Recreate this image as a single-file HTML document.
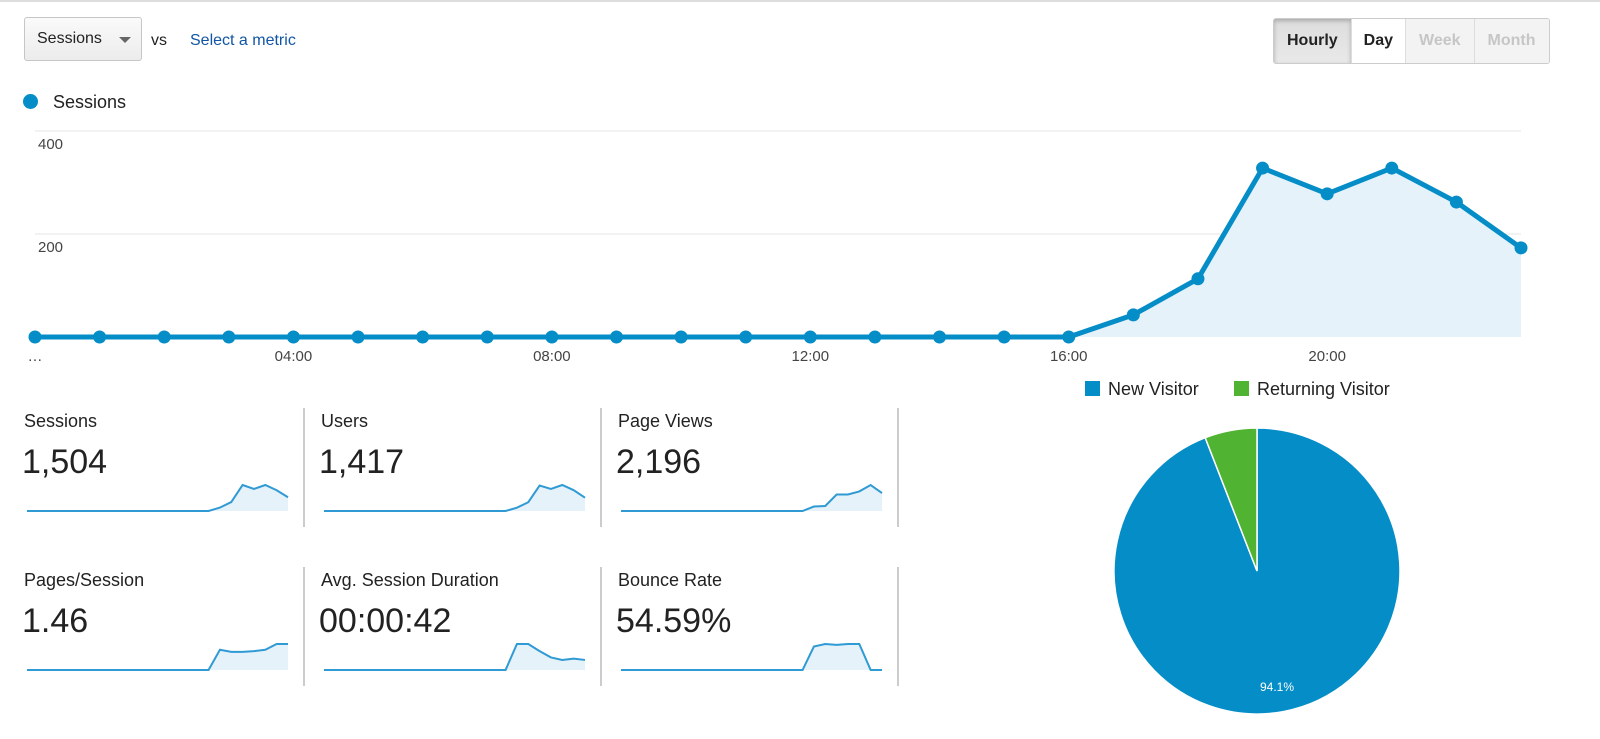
<!DOCTYPE html>
<html><head><meta charset="utf-8">
<style>
body{margin:0;width:1600px;height:739px;background:#fff;font-family:"Liberation Sans",sans-serif;position:relative;overflow:hidden;color:#222}
.abs{position:absolute}
.sel{left:24px;top:17px;width:118px;height:44px;border:1px solid #c6c6c6;border-radius:3px;background:linear-gradient(#fafafa,#ececec);box-sizing:border-box;font-size:16px;line-height:42px;padding-left:12px}
.sel:after{content:"";position:absolute;right:10px;top:19px;border:6px solid transparent;border-top:6px solid #666}
.btns{left:1273px;top:18px;height:44px;display:flex;border:1px solid #ccc;border-radius:3px;overflow:hidden}
.btns div{font-size:16px;font-weight:bold;line-height:44px;padding:0 13px;border-right:1px solid #ddd;background:#f3f3f3;color:#c6c6c6}
.mt{font-size:18px}
.mv{font-size:34px}
</style></head><body>
<div class="abs" style="left:0;top:0;width:1600px;height:2px;background:#ddd"></div>
<div class="abs sel">Sessions</div>
<div class="abs" style="left:151px;top:32px;font-size:16px">vs</div>
<div class="abs" style="left:190px;top:32px;font-size:16px;color:#1155a5">Select a metric</div>
<div class="abs btns">
<div style="background:linear-gradient(#ddd,#e9e9e9);color:#222;box-shadow:inset 0 2px 4px #aaa">Hourly</div>
<div style="background:#fff;color:#222;padding:0 12px">Day</div>
<div>Week</div>
<div style="border-right:none">Month</div>
</div>
<div class="abs" style="left:23px;top:94px;width:15px;height:15px;border-radius:50%;background:#058dc7"></div>
<div class="abs" style="left:53px;top:92px;font-size:18px">Sessions</div>

<svg id="main" class="abs" style="left:0;top:0" width="1600" height="739"></svg>

<div class="abs" style="left:1085px;top:381px;width:15px;height:15px;background:#058dc7"></div>
<div class="abs" style="left:1108px;top:379px;font-size:18px">New Visitor</div>
<div class="abs" style="left:1234px;top:381px;width:15px;height:15px;background:#50b432"></div>
<div class="abs" style="left:1257px;top:379px;font-size:18px">Returning Visitor</div>

<script>
const hours=[0,1,2,3,4,5,6,7,8,9,10,11,12,13,14,15,16,17,18,19,20,21,22,23];
const sessions=[0,0,0,0,0,0,0,0,0,0,0,0,0,0,0,0,0,43,113,328,278,328,262,173];
const yTicks=[200,400];
const xTickLabels=["…","04:00","08:00","12:00","16:00","20:00"];
const xTickHours=[0,4,8,12,16,20];
const sparkUsers=[0,0,0,0,0,0,0,0,0,0,0,0,0,0,0,0,0,40,105,305,265,312,250,160];
const sparkPageViews=[0,0,0,0,0,0,0,0,0,0,0,0,0,0,0,0,0,160,180,590,590,700,930,640];
const sparkPagesSession=[0,0,0,0,0,0,0,0,0,0,0,0,0,0,0,0,0,1.34,1.2,1.2,1.25,1.34,1.72,1.72];
const sparkDuration=[0,0,0,0,0,0,0,0,0,0,0,0,0,0,0,0,0,62,62,45,30,24,27,24];
const sparkBounce=[0,0,0,0,0,0,0,0,0,0,0,0,0,0,0,0,0,84,93,90,93,93,0,0];
const metricNames=["Sessions","Users","Page Views","Pages/Session","Avg. Session Duration","Bounce Rate"];
const metricValues=["1,504","1,417","2,196","1.46","00:00:42","54.59%"];
const pieLabels=["New Visitor","Returning Visitor"];
const pieValues=[94.1,5.9];
const pieColors=["#058dc7","#50b432"];

const NS="http://www.w3.org/2000/svg";
const svg=document.getElementById('main');
function mk(t,a,p){const e=document.createElementNS(NS,t);for(const k in a)e.setAttribute(k,a[k]);(p||svg).appendChild(e);return e;}
const X=h=>35+h*(1521-35)/23;
const Y=v=>337-v*(337-234)/200;
// grid
for(const t of yTicks){const g=mk('line',{x1:35,x2:1521,y1:Y(t),y2:Y(t),stroke:'#e6e6e6'});

const l=mk('text',{x:38,y:Y(t)+18,'font-size':15,fill:'#444'});l.textContent=t;
}
xTickLabels.forEach((s,i)=>{const l=mk('text',{x:X(xTickHours[i]),y:361,'font-size':15,fill:'#444','text-anchor':'middle'});l.textContent=s;
});
let pts=hours.map((h,i)=>X(h)+','+Y(sessions[i])).join(' ');
const area=mk('polygon',{points:X(0)+','+Y(0)+' '+pts+' '+X(23)+','+Y(0),fill:'#e6f2f9'});

const ln=mk('polyline',{points:pts,fill:'none',stroke:'#058dc7','stroke-width':5,'stroke-linejoin':'round'});

hours.forEach((h,i)=>{const c=mk('circle',{cx:X(h),cy:Y(sessions[i]),r:6.5,fill:'#058dc7'});
});

// metric cells
const sparks=[sessions,sparkUsers,sparkPageViews,sparkPagesSession,sparkDuration,sparkBounce];
metricNames.forEach((n,i)=>{
 const col=i%3,row=Math.floor(i/3);
 const x0=24+col*297,y0=row*159;
 const t=mk('text',{x:x0,y:y0+427,'font-size':18,fill:'#222'});t.textContent=n;
 
 const v=mk('text',{x:x0-2,y:y0+473,'font-size':34,fill:'#222'});v.textContent=metricValues[i];
 
 const d=mk('line',{x1:x0+280,x2:x0+280,y1:y0+408,y2:y0+527,stroke:'#ccc','stroke-width':2});
 
 const s=sparks[i],mx=Math.max(...s);
 const sx=k=>x0+3+k*(261/23),sy=val=>y0+511-val/mx*26;
 const p=s.map((val,k)=>sx(k)+','+sy(val)).join(' ');
 const a=mk('polygon',{points:sx(0)+','+sy(0)+' '+p+' '+sx(23)+','+sy(0),fill:'#e6f2f9'});
 
 const l=mk('polyline',{points:p,fill:'none',stroke:'#2f9ad4','stroke-width':2});
 
});

// pie
const cx=1257,cy=571,r=143;let ang=0;const tot=pieValues.reduce((a,b)=>a+b,0);
pieValues.forEach((v,i)=>{
 const a0=ang,a1=ang+v/tot*2*Math.PI;ang=a1;
 const p0=[cx+r*Math.sin(a0),cy-r*Math.cos(a0)],p1=[cx+r*Math.sin(a1),cy-r*Math.cos(a1)];
 const sl=mk('path',{d:`M${cx},${cy}L${p0[0]},${p0[1]}A${r},${r} 0 ${a1-a0>Math.PI?1:0} 1 ${p1[0]},${p1[1]}Z`,fill:pieColors[i],stroke:'#fff','stroke-width':1.5});
 
 
});
const pl=mk('text',{x:1277,y:691,'font-size':12,fill:'#fff','text-anchor':'middle'});pl.textContent=pieValues[0]+'%';

</script>
</body></html>
